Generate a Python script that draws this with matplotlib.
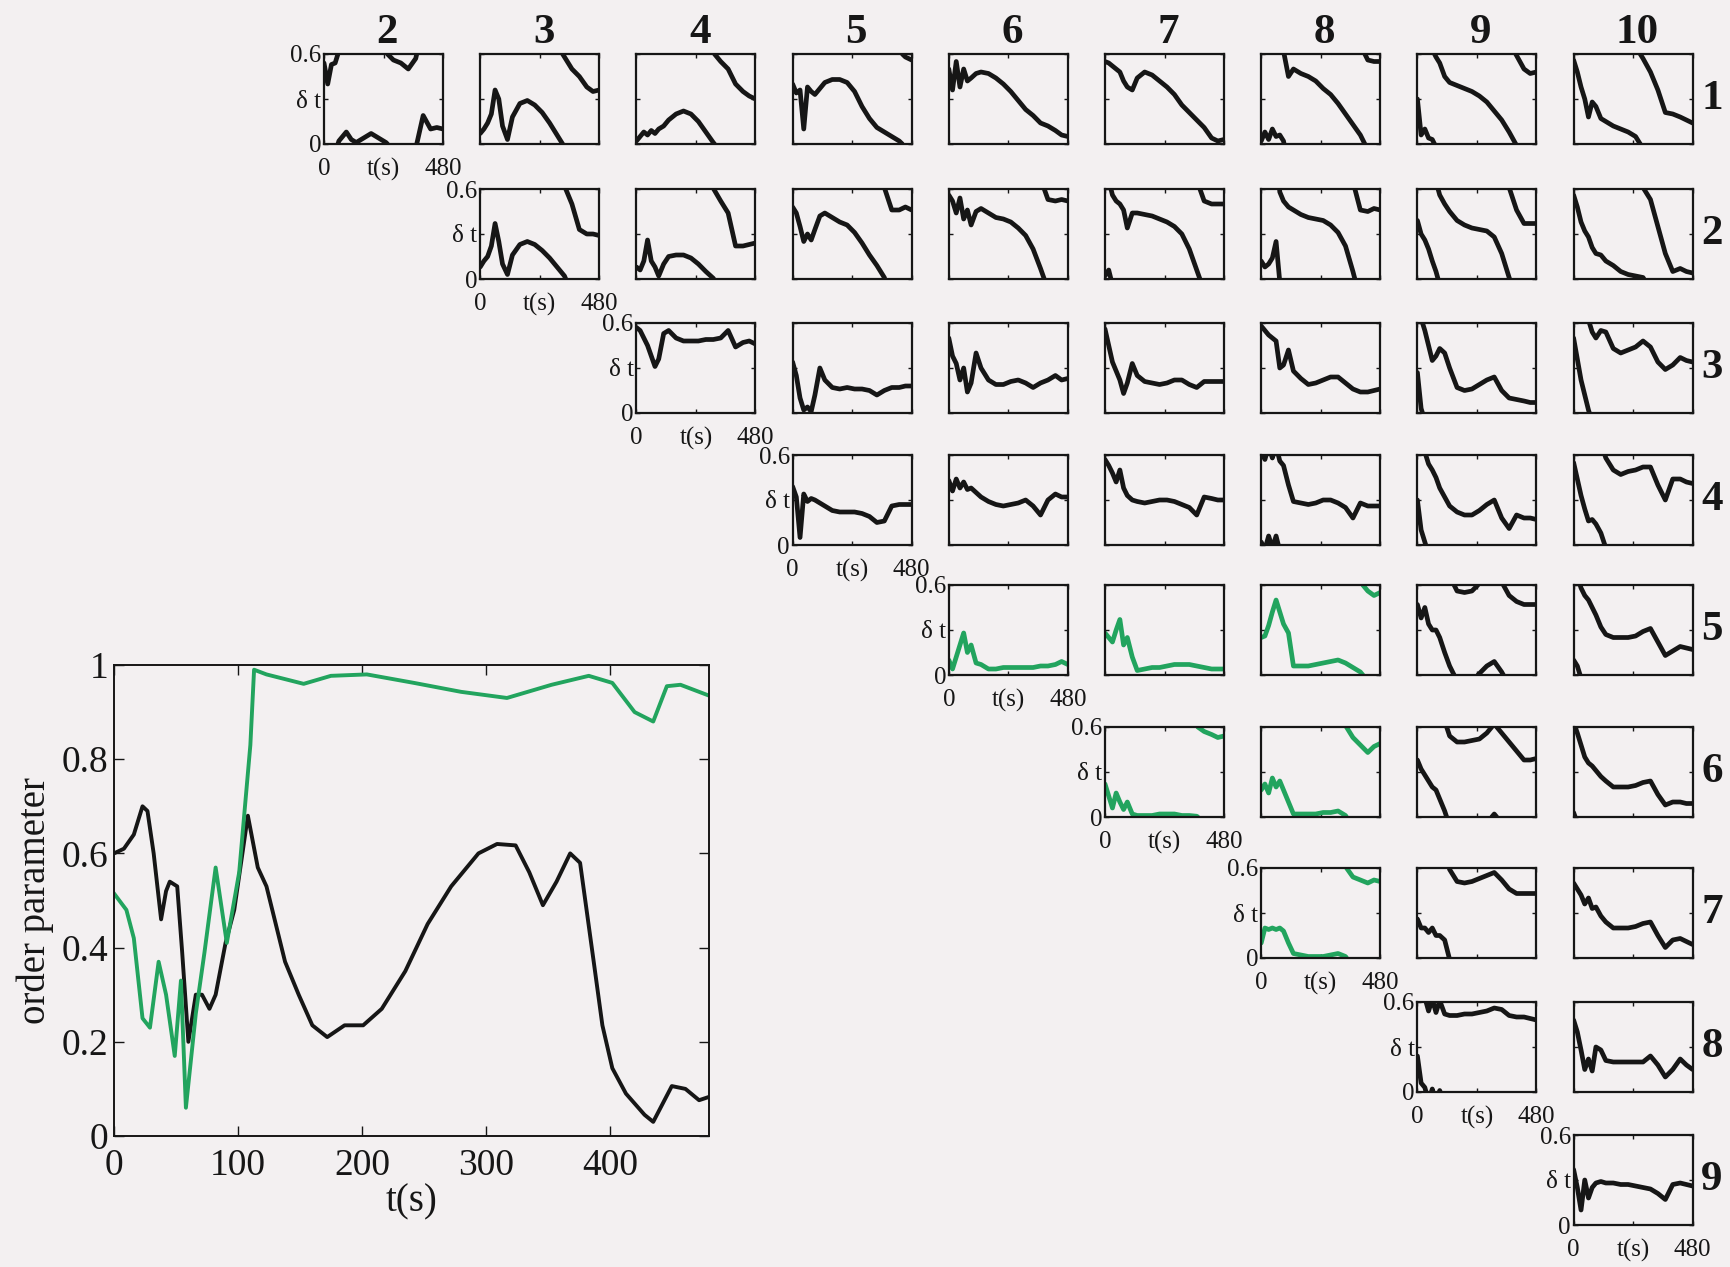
import numpy as np
import matplotlib.pyplot as plt

plt.rcParams['font.family'] = ['Liberation Serif', 'DejaVu Serif']

PERIOD = 0.6          # delta t wraps around at this value (s)
BG = '#f3f0f1'
INK = '#161616'
GREEN = '#22a45e'

# sample times shared by all pair panels (s)
T = [0, 15, 30, 45, 60, 75, 90, 110, 130, 160, 190, 220, 250, 280, 310, 340, 370, 400, 430, 455, 480]

# unwrapped phase lag between oscillator i and j, lag_i_j (s)
lag_1_2 = [-0.06, -0.2, -0.07, -0.06, 0.02, 0.05, 0.08, 0.03, 0.01, 0.04, 0.07, 0.04, 0.01, -0.04, -0.06, -0.1, -0.03, 0.19, 0.1, 0.11, 0.1]
lag_1_3 = [0.07, 0.1, 0.14, 0.2, 0.36, 0.3, 0.12, 0.03, 0.18, 0.27, 0.29, 0.26, 0.21, 0.14, 0.06, -0.02, -0.1, -0.15, -0.22, -0.25, -0.24]
lag_1_4 = [0.02, 0.05, 0.08, 0.06, 0.09, 0.07, 0.1, 0.12, 0.16, 0.2, 0.22, 0.2, 0.15, 0.08, 0.01, -0.05, -0.1, -0.2, -0.25, -0.28, -0.3]
lag_1_5 = [0.4, 0.34, 0.36, 0.1, 0.38, 0.35, 0.33, 0.37, 0.41, 0.43, 0.43, 0.41, 0.35, 0.25, 0.17, 0.11, 0.08, 0.05, 0.02, -0.02, -0.04]
lag_1_6 = [0.5, 0.36, 0.55, 0.38, 0.5, 0.42, 0.44, 0.47, 0.48, 0.47, 0.44, 0.4, 0.35, 0.29, 0.23, 0.19, 0.14, 0.12, 0.09, 0.06, 0.05]
lag_1_7 = [0.55, 0.54, 0.52, 0.5, 0.48, 0.42, 0.38, 0.36, 0.44, 0.48, 0.46, 0.42, 0.38, 0.33, 0.26, 0.21, 0.16, 0.11, 0.04, 0.02, 0.03]
lag_1_8 = [0.62, 0.68, 0.63, 0.7, 0.65, 0.66, 0.62, 0.45, 0.5, 0.47, 0.45, 0.42, 0.37, 0.33, 0.27, 0.2, 0.13, 0.06, -0.04, -0.05, -0.05]
lag_1_9 = [0.3, 0.06, 0.1, 0.04, 0.03, -0.02, -0.06, -0.15, -0.19, -0.21, -0.23, -0.25, -0.28, -0.32, -0.38, -0.44, -0.52, -0.61, -0.7, -0.73, -0.72]
lag_1_10 = [0.56, 0.48, 0.38, 0.3, 0.18, 0.28, 0.25, 0.17, 0.15, 0.12, 0.1, 0.08, 0.05, -0.03, -0.12, -0.24, -0.39, -0.4, -0.42, -0.44, -0.46]

lag_2_3 = [0.08, 0.12, 0.15, 0.22, 0.37, 0.25, 0.1, 0.03, 0.16, 0.23, 0.25, 0.23, 0.19, 0.14, 0.08, 0.02, -0.1, -0.27, -0.3, -0.3, -0.31]
lag_2_4 = [0.08, 0.06, 0.12, 0.26, 0.12, 0.08, 0.02, 0.1, 0.15, 0.16, 0.16, 0.14, 0.1, 0.05, 0.005, -0.08, -0.16, -0.38, -0.38, -0.37, -0.36]
lag_2_5 = [0.48, 0.44, 0.35, 0.25, 0.3, 0.26, 0.33, 0.42, 0.44, 0.41, 0.38, 0.36, 0.31, 0.24, 0.16, 0.09, 0.01, -0.14, -0.14, -0.12, -0.14]
lag_2_6 = [0.56, 0.52, 0.44, 0.54, 0.4, 0.46, 0.36, 0.45, 0.47, 0.44, 0.41, 0.4, 0.38, 0.34, 0.29, 0.2, 0.07, -0.07, -0.08, -0.07, -0.08]
lag_2_7 = [0.62, 0.66, 0.56, 0.52, 0.5, 0.46, 0.34, 0.44, 0.44, 0.43, 0.42, 0.4, 0.38, 0.35, 0.3, 0.2, 0.06, -0.08, -0.1, -0.1, -0.1]
lag_2_8 = [0.72, 0.68, 0.7, 0.74, 0.85, 0.58, 0.52, 0.48, 0.46, 0.43, 0.41, 0.4, 0.39, 0.36, 0.31, 0.22, 0.05, -0.14, -0.15, -0.13, -0.14]
lag_2_9 = [0.39, 0.3, 0.26, 0.2, 0.12, 0.05, -0.04, -0.1, -0.15, -0.21, -0.24, -0.26, -0.27, -0.28, -0.32, -0.43, -0.59, -0.74, -0.83, -0.83, -0.83]
lag_2_10 = [0.56, 0.48, 0.38, 0.32, 0.28, 0.21, 0.17, 0.16, 0.12, 0.09, 0.05, 0.03, 0.02, 0.01, -0.07, -0.25, -0.43, -0.55, -0.53, -0.55, -0.56]

lag_3_4 = [0.57, 0.55, 0.5, 0.45, 0.38, 0.31, 0.36, 0.53, 0.55, 0.5, 0.48, 0.48, 0.48, 0.49, 0.49, 0.5, 0.55, 0.44, 0.47, 0.48, 0.46]
lag_3_5 = [0.34, 0.25, 0.1, 0.02, 0.04, 0.01, 0.12, 0.3, 0.22, 0.17, 0.16, 0.17, 0.16, 0.16, 0.15, 0.12, 0.15, 0.17, 0.17, 0.18, 0.18]
lag_3_6 = [0.5, 0.38, 0.33, 0.22, 0.3, 0.14, 0.2, 0.4, 0.3, 0.22, 0.19, 0.19, 0.21, 0.22, 0.2, 0.17, 0.2, 0.22, 0.25, 0.22, 0.23]
lag_3_7 = [0.56, 0.45, 0.34, 0.28, 0.22, 0.13, 0.2, 0.33, 0.25, 0.21, 0.2, 0.19, 0.2, 0.22, 0.22, 0.19, 0.17, 0.21, 0.21, 0.21, 0.21]
lag_3_8 = [0.58, 0.55, 0.52, 0.5, 0.48, 0.3, 0.32, 0.42, 0.28, 0.23, 0.19, 0.2, 0.22, 0.24, 0.24, 0.2, 0.16, 0.14, 0.14, 0.15, 0.16]
lag_3_9 = [0.27, 0.03, -0.05, -0.15, -0.25, -0.22, -0.17, -0.2, -0.3, -0.43, -0.45, -0.44, -0.41, -0.38, -0.36, -0.45, -0.5, -0.51, -0.52, -0.53, -0.53]
lag_3_10 = [0.5, 0.36, 0.22, 0.12, 0.02, -0.06, -0.1, -0.05, -0.06, -0.17, -0.2, -0.18, -0.16, -0.12, -0.16, -0.26, -0.31, -0.28, -0.23, -0.25, -0.26]

lag_4_5 = [0.39, 0.32, 0.05, 0.34, 0.29, 0.31, 0.3, 0.28, 0.26, 0.23, 0.22, 0.22, 0.22, 0.21, 0.19, 0.15, 0.16, 0.26, 0.27, 0.27, 0.27]
lag_4_6 = [0.43, 0.36, 0.44, 0.38, 0.42, 0.37, 0.38, 0.35, 0.32, 0.29, 0.27, 0.26, 0.27, 0.28, 0.3, 0.26, 0.2, 0.3, 0.34, 0.32, 0.32]
lag_4_7 = [0.57, 0.53, 0.48, 0.42, 0.5, 0.38, 0.33, 0.3, 0.29, 0.28, 0.29, 0.3, 0.3, 0.29, 0.27, 0.25, 0.2, 0.32, 0.31, 0.3, 0.3]
lag_4_8 = [0.62, 0.57, 0.66, 0.58, 0.66, 0.56, 0.53, 0.4, 0.29, 0.28, 0.27, 0.28, 0.3, 0.3, 0.28, 0.25, 0.18, 0.28, 0.26, 0.26, 0.26]
lag_4_9 = [0.3, 0.1, 0.02, -0.06, -0.1, -0.15, -0.22, -0.28, -0.34, -0.38, -0.4, -0.4, -0.37, -0.33, -0.3, -0.42, -0.49, -0.4, -0.42, -0.42, -0.43]
lag_4_10 = [0.55, 0.44, 0.33, 0.24, 0.16, 0.17, 0.14, 0.08, -0.02, -0.1, -0.13, -0.11, -0.1, -0.08, -0.08, -0.2, -0.3, -0.16, -0.16, -0.18, -0.19]

lag_5_6 = [0.1, 0.04, 0.12, 0.2, 0.28, 0.15, 0.2, 0.08, 0.07, 0.04, 0.04, 0.05, 0.05, 0.05, 0.05, 0.05, 0.06, 0.06, 0.07, 0.09, 0.07]
lag_5_7 = [0.28, 0.25, 0.22, 0.3, 0.37, 0.2, 0.25, 0.12, 0.03, 0.04, 0.05, 0.05, 0.06, 0.07, 0.07, 0.07, 0.06, 0.05, 0.04, 0.04, 0.04]
lag_5_8 = [0.25, 0.26, 0.33, 0.42, 0.5, 0.42, 0.34, 0.28, 0.06, 0.06, 0.06, 0.07, 0.08, 0.09, 0.1, 0.08, 0.05, 0.02, -0.04, -0.07, -0.05]
lag_5_9 = [0.47, 0.38, 0.45, 0.34, 0.3, 0.3, 0.25, 0.15, 0.06, -0.04, -0.05, -0.04, 0.01, 0.06, 0.09, 0.02, -0.07, -0.11, -0.13, -0.13, -0.13]
lag_5_10 = [0.7, 0.66, 0.58, 0.53, 0.5, 0.45, 0.4, 0.32, 0.27, 0.25, 0.25, 0.25, 0.26, 0.29, 0.31, 0.22, 0.13, 0.16, 0.19, 0.18, 0.17]

lag_6_7 = [0.22, 0.14, 0.06, 0.16, 0.1, 0.05, 0.1, 0.02, 0.01, 0.01, 0.01, 0.02, 0.02, 0.02, 0.01, 0.01, 0.005, -0.03, -0.05, -0.07, -0.06]
lag_6_8 = [0.18, 0.22, 0.16, 0.26, 0.2, 0.24, 0.18, 0.1, 0.02, 0.02, 0.02, 0.02, 0.03, 0.03, 0.04, 0.01, -0.07, -0.12, -0.17, -0.13, -0.11]
lag_6_9 = [0.38, 0.32, 0.28, 0.24, 0.2, 0.18, 0.12, 0.04, -0.06, -0.1, -0.1, -0.09, -0.08, -0.04, 0.02, -0.04, -0.1, -0.16, -0.22, -0.22, -0.21]
lag_6_10 = [0.63, 0.56, 0.48, 0.4, 0.36, 0.34, 0.31, 0.27, 0.24, 0.2, 0.2, 0.2, 0.21, 0.23, 0.24, 0.15, 0.08, 0.1, 0.1, 0.09, 0.09]

lag_7_8 = [0.1, 0.2, 0.19, 0.2, 0.19, 0.2, 0.18, 0.1, 0.03, 0.02, 0.01, 0.01, 0.01, 0.02, 0.03, 0.01, -0.06, -0.08, -0.1, -0.08, -0.09]
lag_7_9 = [0.26, 0.2, 0.2, 0.17, 0.2, 0.15, 0.15, 0.12, -0.01, -0.09, -0.1, -0.09, -0.07, -0.05, -0.03, -0.08, -0.14, -0.17, -0.17, -0.17, -0.17]
lag_7_10 = [0.5, 0.46, 0.42, 0.36, 0.4, 0.33, 0.34, 0.28, 0.24, 0.2, 0.2, 0.2, 0.21, 0.23, 0.24, 0.15, 0.07, 0.12, 0.13, 0.11, 0.09]

lag_8_9 = [0.24, 0.06, 0.03, -0.06, 0.02, -0.07, 0.01, -0.08, -0.09, -0.09, -0.08, -0.08, -0.07, -0.06, -0.04, -0.05, -0.09, -0.1, -0.1, -0.11, -0.12]
lag_8_10 = [0.48, 0.4, 0.28, 0.15, 0.22, 0.14, 0.3, 0.28, 0.21, 0.2, 0.2, 0.2, 0.2, 0.2, 0.24, 0.18, 0.1, 0.15, 0.22, 0.18, 0.15]

lag_9_10 = [0.37, 0.25, 0.1, 0.3, 0.18, 0.25, 0.28, 0.29, 0.28, 0.28, 0.27, 0.27, 0.26, 0.25, 0.24, 0.21, 0.17, 0.27, 0.28, 0.27, 0.26]

# pairs that lock into the synchronised cluster
green_pairs = [(5, 6), (5, 7), (5, 8), (6, 7), (6, 8), (7, 8)]

# order parameter over time
t_black = [0, 8, 16, 23, 27, 32, 38, 42, 45, 51, 55, 60, 66, 71, 77, 82, 90, 97, 108, 116, 123, 138, 149, 160,
           172, 186, 201, 216, 235, 253, 272, 294, 309, 324, 335, 346, 357, 368, 376, 387, 394, 402, 413, 428,
           435, 450, 461, 472, 480]
order_black = [0.6, 0.61, 0.64, 0.7, 0.69, 0.6, 0.46, 0.52, 0.54, 0.53, 0.39, 0.2, 0.3, 0.3, 0.27, 0.3, 0.41, 0.48,
               0.68, 0.57, 0.53, 0.37, 0.3, 0.235, 0.21, 0.235, 0.235, 0.27, 0.35, 0.45, 0.53, 0.6, 0.62, 0.617,
               0.56, 0.49, 0.54, 0.6, 0.58, 0.37, 0.235, 0.144, 0.09, 0.045, 0.03, 0.106, 0.1, 0.076, 0.083]
t_green = [0, 10, 16, 23, 29, 36, 42, 49, 54, 58, 66, 73, 82, 91, 101, 110, 113, 123, 138, 153, 175, 204, 242,
           280, 317, 353, 383, 402, 420, 435, 446, 457, 480]
order_green = [0.515, 0.48, 0.42, 0.25, 0.23, 0.37, 0.3, 0.17, 0.33, 0.06, 0.26, 0.39, 0.57, 0.41, 0.56, 0.83,
               0.99, 0.98, 0.97, 0.96, 0.977, 0.98, 0.962, 0.943, 0.93, 0.958, 0.977, 0.962, 0.9, 0.88, 0.955,
               0.958, 0.935]

lags = {
    (1, 2): lag_1_2, (1, 3): lag_1_3, (1, 4): lag_1_4, (1, 5): lag_1_5, (1, 6): lag_1_6,
    (1, 7): lag_1_7, (1, 8): lag_1_8, (1, 9): lag_1_9, (1, 10): lag_1_10,
    (2, 3): lag_2_3, (2, 4): lag_2_4, (2, 5): lag_2_5, (2, 6): lag_2_6, (2, 7): lag_2_7,
    (2, 8): lag_2_8, (2, 9): lag_2_9, (2, 10): lag_2_10,
    (3, 4): lag_3_4, (3, 5): lag_3_5, (3, 6): lag_3_6, (3, 7): lag_3_7, (3, 8): lag_3_8,
    (3, 9): lag_3_9, (3, 10): lag_3_10,
    (4, 5): lag_4_5, (4, 6): lag_4_6, (4, 7): lag_4_7, (4, 8): lag_4_8, (4, 9): lag_4_9, (4, 10): lag_4_10,
    (5, 6): lag_5_6, (5, 7): lag_5_7, (5, 8): lag_5_8, (5, 9): lag_5_9, (5, 10): lag_5_10,
    (6, 7): lag_6_7, (6, 8): lag_6_8, (6, 9): lag_6_9, (6, 10): lag_6_10,
    (7, 8): lag_7_8, (7, 9): lag_7_9, (7, 10): lag_7_10,
    (8, 9): lag_8_9, (8, 10): lag_8_10,
    (9, 10): lag_9_10,
}


def wrap_line(t, v, period=PERIOD):
    """Fold v into [0, period) and cut the line where it wraps (NaN gaps)."""
    xs, ys = [t[0]], [v[0] % period]
    for k in range(1, len(t)):
        t0, t1, v0, v1 = t[k - 1], t[k], v[k - 1], v[k]
        n0, n1 = np.floor(v0 / period), np.floor(v1 / period)
        step = 1 if n1 > n0 else -1
        n = n0
        while n != n1:
            edge = (n + 1) * period if step > 0 else n * period
            tc = t0 + (edge - v0) / (v1 - v0) * (t1 - t0)
            xs += [tc, np.nan, tc]
            ys += [period if step > 0 else 0.0, np.nan, 0.0 if step > 0 else period]
            n += step
        xs.append(t1)
        ys.append(v1 - n1 * period)
    return np.array(xs), np.array(ys)


W, H = 1730, 1267
fig = plt.figure(figsize=(W / 100, H / 100), dpi=100, facecolor=BG)

row_top = [54, 189, 323, 455, 585, 727, 868, 1002, 1135]
pw, ph = 119, 90

for (i, j), v in lags.items():
    left = 324 + (j - 2) * 156.2
    top = row_top[i - 1]
    ax = fig.add_axes([left / W, 1 - (top + ph) / H, pw / W, ph / H])
    ax.set_facecolor(BG)
    color = GREEN if (i, j) in green_pairs else INK
    xs, ys = wrap_line(T, v)
    ax.plot(xs, ys, color=color, lw=3.4, solid_capstyle='round', solid_joinstyle='round')
    ax.set_xlim(0, 480)
    ax.set_ylim(0, PERIOD)
    ax.set_xticks([0, 240, 480])
    ax.set_yticks([0, 0.3, 0.6])
    ax.tick_params(direction='in', length=3, width=1, top=True, right=True, colors=INK,
                   labelsize=18)
    ax.tick_params(axis='x', pad=10)
    ax.tick_params(axis='y', pad=2)
    for s in ax.spines.values():
        s.set_linewidth(1.6)
        s.set_color(INK)
    if j == i + 1:
        ax.set_xticklabels(['0', 't(s)', '480'])
        ax.set_yticklabels(['0', 'δ t', '0.6'])
    else:
        ax.set_xticklabels([])
        ax.set_yticklabels([])

# column and row indices
for j in range(2, 11):
    cx = 324 + (j - 2) * 156.2 + pw / 2 + 4
    fig.text(cx / W, 1 - 33 / H, str(j), ha='center', va='center', fontsize=31,
             fontweight='bold', color=INK)
for i in range(1, 10):
    cy = row_top[i - 1] + ph / 2
    fig.text(1712 / W, 1 - cy / H, str(i), ha='center', va='center', fontsize=31,
             fontweight='bold', color=INK)

# order parameter panel
ax = fig.add_axes([114 / W, 1 - 1136 / H, (709 - 114) / W, (1136 - 665) / H])
ax.set_facecolor(BG)
ax.plot(t_black, order_black, color=INK, lw=2.8)
ax.plot(t_green, order_green, color=GREEN, lw=2.8)
ax.set_xlim(0, 480)
ax.set_ylim(0, 1)
ax.set_xticks([0, 100, 200, 300, 400])
ax.set_yticks([0, 0.2, 0.4, 0.6, 0.8, 1])
ax.set_yticklabels(['0', '0.2', '0.4', '0.6', '0.8', '1'])
ax.tick_params(direction='in', length=7, width=1, top=True, right=True, colors=INK, labelsize=27)
ax.tick_params(axis='x', pad=9)
ax.tick_params(axis='y', pad=4)
for s in ax.spines.values():
    s.set_linewidth(1.4)
    s.set_color(INK)
ax.set_xlabel('t(s)', fontsize=28, color=INK)
ax.set_ylabel('order parameter', fontsize=28, color=INK)
ax.xaxis.set_label_coords(0.5, -0.1)
ax.yaxis.set_label_coords(-0.1, 0.5)

fig.savefig('out.png', dpi=100, facecolor=BG)
